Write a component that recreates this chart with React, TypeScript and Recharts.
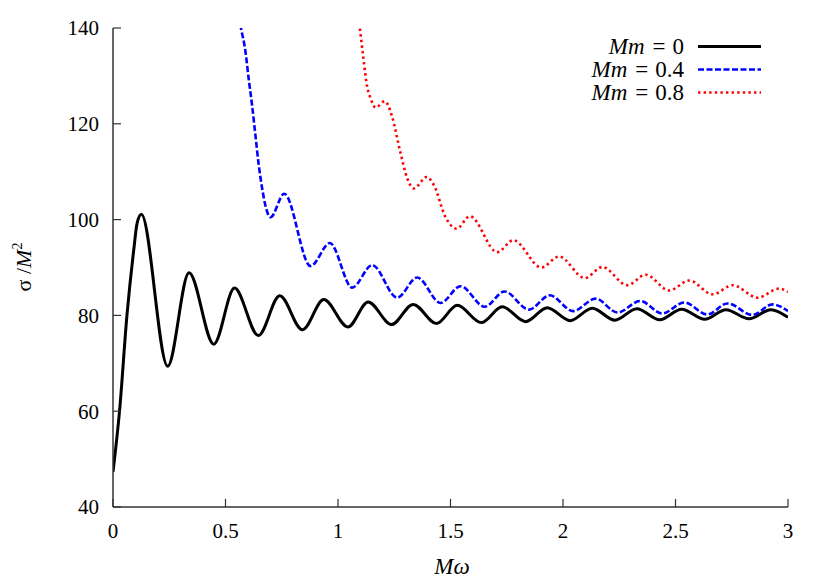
import React from "react";
import { LineChart, Line, XAxis, YAxis } from "recharts";

const blackW = [0, 0.029, 0.062, 0.092, 0.107, 0.126, 0.243, 0.338, 0.448, 0.54, 0.646, 0.741, 0.842, 0.937, 1.044, 1.134, 1.238, 1.334, 1.438, 1.53, 1.637, 1.73, 1.834, 1.93, 2.032, 2.13, 2.231, 2.328, 2.43, 2.527, 2.63, 2.724, 2.827, 2.924, 3.0];
const blackS = [47.3, 60, 80, 93.6, 99.2, 101.1, 69.4, 88.9, 74.0, 85.7, 75.8, 84.1, 77.0, 83.3, 77.6, 82.8, 78.1, 82.3, 78.3, 82.1, 78.5, 81.8, 78.7, 81.6, 78.9, 81.5, 79.0, 81.4, 79.1, 81.3, 79.2, 81.2, 79.3, 81.2, 79.6];

const blueW = [0.55, 0.569, 0.589, 0.603, 0.618, 0.633, 0.648, 0.663, 0.677, 0.7, 0.761, 0.878, 0.964, 1.063, 1.152, 1.263, 1.352, 1.456, 1.545, 1.652, 1.74, 1.849, 1.941, 2.045, 2.145, 2.242, 2.343, 2.442, 2.538, 2.642, 2.731, 2.842, 2.931, 3.0];
const blueS = [144.3, 139.9, 135.0, 129.4, 123.9, 117.6, 111.3, 106.5, 103.0, 100.5, 105.4, 90.3, 95.1, 85.8, 90.5, 83.7, 87.9, 82.6, 86.1, 81.8, 85.0, 81.2, 84.2, 80.9, 83.5, 80.6, 83.0, 80.4, 82.7, 80.2, 82.5, 80.1, 82.3, 80.9];

const redW = [1.085, 1.097, 1.112, 1.13, 1.145, 1.167, 1.208, 1.241, 1.275, 1.308, 1.337, 1.394, 1.426, 1.478, 1.527, 1.586, 1.708, 1.779, 1.904, 1.982, 2.097, 2.175, 2.286, 2.368, 2.472, 2.561, 2.665, 2.754, 2.865, 2.961, 3.0];
const redS = [144.5, 140, 134.0, 127.7, 125.3, 123.4, 124.7, 121.4, 114.5, 108.6, 106.5, 108.9, 107.2, 100.5, 98.1, 100.7, 93.2, 95.7, 90.0, 92.3, 87.8, 90.1, 86.3, 88.5, 85.2, 87.3, 84.4, 86.3, 83.7, 85.6, 84.9];

const xTicks = [0, 0.5, 1, 1.5, 2, 2.5, 3];
const yTicks = [40, 60, 80, 100, 120, 140];
const legendLabels = ["0", "0.4", "0.8"];

const toPts = (ws: number[], ss: number[]) => ws.map((w, i) => ({ w, s: ss[i] }));
const blackData = toPts(blackW, blackS);
const blueData = toPts(blueW, blueS);
const redData = toPts(redW, redS);

const FONT = "Liberation Serif, Tinos, Times New Roman, serif";
const AX = "#333";
const tickStyle = { fontFamily: FONT, fontSize: 21, fill: "#000" };

const series = [
  { color: "#000", dash: undefined as string | undefined, width: 3 },
  { color: "#0000ff", dash: "6 2.5", width: 2.6 },
  { color: "#ff0000", dash: "2.4 3.2", width: 2.6 },
];

export default function App() {
  return (
    <div style={{ position: "absolute", left: 0, top: 0, width: 830, height: 581, background: "#fff", fontFamily: FONT }}>
      <LineChart
        width={830}
        height={581}
        margin={{ top: 28, right: 42, bottom: 34, left: 53 }}
        style={{ fontFamily: FONT }}
      >
        <XAxis
          xAxisId="b"
          dataKey="w"
          type="number"
          domain={[0, 3]}
          ticks={xTicks}
          allowDataOverflow
          height={40}
          tickSize={-8}
          tickMargin={24}
          axisLine={{ stroke: AX, strokeWidth: 1.5 }}
          tickLine={{ stroke: AX, strokeWidth: 1.2 }}
          tick={tickStyle}
          tickFormatter={(v: number) => String(v)}
        />
        <XAxis
          xAxisId="t"
          orientation="top"
          dataKey="w"
          type="number"
          domain={[0, 3]}
          ticks={xTicks}
          allowDataOverflow
          height={0}
          tickSize={-8}
          axisLine={{ stroke: AX, strokeWidth: 1.5 }}
          tickLine={{ stroke: AX, strokeWidth: 1.2 }}
          tickFormatter={() => ""}
        />
        <YAxis
          yAxisId="l"
          type="number"
          domain={[40, 140]}
          ticks={yTicks}
          allowDataOverflow
          width={60}
          tickSize={-8}
          tickMargin={22}
          axisLine={{ stroke: AX, strokeWidth: 1.5 }}
          tickLine={{ stroke: AX, strokeWidth: 1.2 }}
          tick={tickStyle}
        />
        <YAxis
          yAxisId="r"
          orientation="right"
          type="number"
          domain={[40, 140]}
          ticks={yTicks}
          allowDataOverflow
          width={0}
          tickSize={-8}
          axisLine={{ stroke: AX, strokeWidth: 1.5 }}
          tickLine={{ stroke: AX, strokeWidth: 1.2 }}
          tickFormatter={() => ""}
        />
        <Line
          xAxisId="b"
          yAxisId="l"
          data={blackData}
          dataKey="s"
          type="monotone"
          stroke={series[0].color}
          strokeWidth={series[0].width}
          dot={false}
          isAnimationActive={false}
        />
        <Line
          xAxisId="b"
          yAxisId="l"
          data={blueData}
          dataKey="s"
          type="monotone"
          stroke={series[1].color}
          strokeWidth={series[1].width}
          strokeDasharray={series[1].dash}
          dot={false}
          isAnimationActive={false}
        />
        <Line
          xAxisId="b"
          yAxisId="l"
          data={redData}
          dataKey="s"
          type="monotone"
          stroke={series[2].color}
          strokeWidth={series[2].width}
          strokeDasharray={series[2].dash}
          dot={false}
          isAnimationActive={false}
        />
      </LineChart>
      <svg
        width={830}
        height={581}
        style={{ position: "absolute", left: 0, top: 0, pointerEvents: "none", fontFamily: FONT }}
      >
        {legendLabels.map((lab, i) => {
          const y = 46.5 + i * 23;
          return (
            <g key={lab}>
              <text
                x={684}
                y={y + 7.5}
                textAnchor="end"
                fontFamily={FONT}
                fontSize={23}
                fill="#000"
              >
                <tspan fontStyle="italic">Mm</tspan>
                <tspan dx={8}>=</tspan>
                <tspan dx={7}>{lab}</tspan>
              </text>
              <line
                x1={698}
                x2={761}
                y1={y}
                y2={y}
                stroke={series[i].color}
                strokeWidth={series[i].width}
                strokeDasharray={series[i].dash}
              />
            </g>
          );
        })}
        <text
          x={452}
          y={574}
          textAnchor="middle"
          fontFamily={FONT}
          fontSize={23}
          fontStyle="italic"
          fill="#000"
        >
          Mω
        </text>
        <text
          transform="translate(31,267) rotate(-90)"
          textAnchor="middle"
          fontFamily={FONT}
          fontSize={22}
          fill="#000"
        >
          σ /<tspan fontStyle="italic">M</tspan>
          <tspan fontSize={14} dy={-9}>2</tspan>
        </text>
      </svg>
    </div>
  );
}
